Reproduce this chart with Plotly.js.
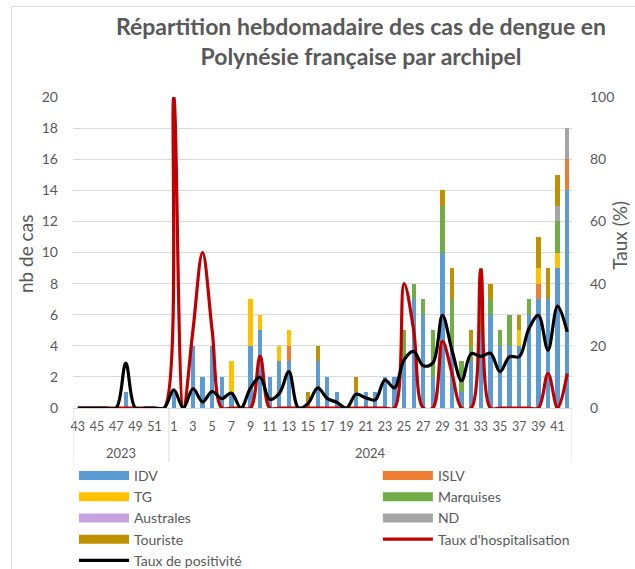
<!DOCTYPE html>
<html>
<head>
<meta charset="utf-8">
<script src="https://cdn.plot.ly/plotly-3.0.1.min.js"></script>
<style>
  html, body { margin: 0; padding: 0; background: #ffffff; }
  #frame { position: absolute; left: 11px; top: 6px; width: 640px; height: 580px;
           border-left: 1px solid #d9d9d9; border-top: 1px solid #d9d9d9; }
  #chart { position: absolute; left: 0; top: 0; width: 635px; height: 569px; }
</style>
</head>
<body>
<div id="frame"></div>
<div id="chart"></div>
<script>
// Weeks: 2023 weeks 43-52, 2024 weeks 1-42
const weeks = ["43","44","45","46","47","48","49","50","51","52",
  "1","2","3","4","5","6","7","8","9","10","11","12","13","14","15","16","17","18","19","20",
  "21","22","23","24","25","26","27","28","29","30","31","32","33","34","35","36","37","38","39","40","41","42"];
const years = ["2023", "2024"];
const tickWeeks = ["43","45","47","49","51","1","3","5","7","9","11","13","15","17","19","21","23","25","27","29","31","33","35","37","39","41"];

// Cases per archipelago (stacked)
const idv = [0,0,0,0,0,1,0,0,0,0,
  1,0,4,2,4,2,1,0,4,5,2,3,3,0,0,3,2,1,0,1,
  1,1,2,2,3,7,6,2,10,4,1,3,5,6,4,4,4,6,7,7,9,14];
const islv = [0,0,0,0,0,0,0,0,0,0,
  0,0,0,0,0,0,0,0,0,0,0,0,1,0,0,0,0,0,0,0,
  0,0,0,0,0,0,0,0,0,0,0,0,0,0,0,0,0,0,1,0,0,2];
const tg = [0,0,0,0,0,0,0,0,0,0,
  0,0,0,0,0,0,2,0,3,1,0,1,1,0,0,0,0,0,0,0,
  0,0,0,0,0,0,0,0,0,0,0,0,0,0,0,0,1,0,1,0,1,0];
const marquises = [0,0,0,0,0,0,0,0,0,0,
  0,0,0,0,0,0,0,0,0,0,0,0,0,0,0,0,0,0,0,0,
  0,0,0,0,2,1,1,3,3,3,2,1,4,1,1,2,0,1,0,0,2,0];
const australes = [0,0,0,0,0,0,0,0,0,0,
  0,0,0,0,0,0,0,0,0,0,0,0,0,0,0,0,0,0,0,0,
  0,0,0,0,0,0,0,0,0,0,0,0,0,0,0,0,0,0,0,0,0,0];
const nd = [0,0,0,0,0,0,0,0,0,0,
  0,0,0,0,0,0,0,0,0,0,0,0,0,0,0,0,0,0,0,0,
  0,0,0,0,0,0,0,0,0,0,0,0,0,0,0,0,0,0,0,0,1,2];
const touriste = [0,0,0,0,0,0,0,0,0,0,
  0,0,0,0,0,0,0,0,0,0,0,0,0,0,1,1,0,0,0,1,
  0,0,0,0,0,0,0,0,1,2,0,1,0,1,0,0,1,0,2,2,2,0];

// Rates (%)
const tauxHosp = [0,0,0,0,0,0,0,0,0,0,
  100,0,25,50,25,0,0,0,0,16.7,0,0,0,0,0,0,0,0,0,0,
  0,0,0,0,40,25,0,0,21.4,11.1,0,0,44.4,0,0,0,0,0,0,11.1,0,11.1];
const tauxPos = [0,0,0,0,0,14.4,0,0,0,0,
  5.8,0,6.2,2,5.3,3,4.8,0,6.5,9.9,2.8,4.7,11.7,0,1.5,6.5,3.1,1.8,0,4.4,
  3.3,2.6,9,6.5,15.5,18.2,13.6,14.5,29.8,18.5,8.8,17.5,16.6,17.6,11.7,16.5,16.5,25.5,29.8,18.6,32.8,24.5];

const FONT = "Lato, 'Open Sans', sans-serif";
const GREY = "#595959";

function bar(name, vals, color, leg) {
  return { type: "bar", name: name, x: weeks, y: vals, marker: { color: color },
           yaxis: "y", legend: leg, hoverinfo: "x+y+name" };
}

const traces = [
  bar("IDV", idv, "#5b9bd5", "legend"),
  bar("ISLV", islv, "#ed7d31", "legend2"),
  bar("TG", tg, "#ffc000", "legend"),
  bar("Marquises", marquises, "#70ad47", "legend2"),
  bar("Australes", australes, "#c6a3e0", "legend"),
  bar("ND", nd, "#a5a5a5", "legend2"),
  bar("Touriste", touriste, "#bf9000", "legend"),
  { type: "scatter", mode: "lines", name: "Taux d'hospitalisation", x: weeks, y: tauxHosp,
    yaxis: "y2", legend: "legend2",
    line: { color: "#c00000", width: 3.2, shape: "spline", smoothing: 1 } },
  { type: "scatter", mode: "lines", name: "Taux de positivité", x: weeks, y: tauxPos,
    yaxis: "y2", legend: "legend",
    line: { color: "#000000", width: 3.2, shape: "spline", smoothing: 1 } }
];

const plotH = 311, plotW = 499.2, L = 73;
function legendBox(px) {
  return {
    orientation: "v",
    x: (px - L) / plotW, xanchor: "left",
    y: (408 - 460) / plotH, yanchor: "top",
    itemwidth: 50,
    font: { family: FONT, size: 14, color: GREY },
    traceorder: "normal",
    bgcolor: "rgba(0,0,0,0)", borderwidth: 0
  };
}

const layout = {
  width: 635, height: 569,
  margin: { l: L, r: 635 - L - plotW, t: 97, b: 161, autoexpand: false },
  paper_bgcolor: "rgba(0,0,0,0)",
  plot_bgcolor: "rgba(0,0,0,0)",
  font: { family: FONT, color: GREY, size: 14 },
  barmode: "stack",
  bargap: 0.55,
  title: {
    text: "<b>Répartition hebdomadaire des cas de dengue en<br>Polynésie française par archipel</b>",
    font: { family: FONT, size: 23, color: GREY },
    x: 361 / 635, xanchor: "center", xref: "container",
    y: 1 - 35 / 569, yanchor: "middle", yref: "container"
  },
  xaxis: {
    type: "category",
    categoryorder: "array", categoryarray: weeks,
    tickmode: "array", tickvals: tickWeeks, ticktext: tickWeeks,
    tickangle: 0,
    showgrid: false, zeroline: false,
    showline: true, linecolor: "#d9d9d9", linewidth: 1,
    ticks: "", ticklabelstandoff: 7,
    tickfont: { family: FONT, size: 12.5, color: GREY },
    range: [-0.5, 51.5]
  },
  yaxis: {
    range: [0, 20], dtick: 2, tick0: 0,
    showgrid: true, gridcolor: "#d9d9d9", gridwidth: 1,
    zeroline: false, showline: false, ticks: "",
    ticklabelstandoff: 14,
    tickfont: { family: FONT, size: 14, color: GREY }
  },
  yaxis2: {
    overlaying: "y", side: "right",
    range: [0, 100], dtick: 20, tick0: 0,
    showgrid: false, zeroline: false, showline: false, ticks: "",
    ticklabelstandoff: 17,
    tickfont: { family: FONT, size: 14, color: GREY }
  },
  legend: legendBox(74),
  legend2: legendBox(378),
  annotations: [
    { text: years[0], x: 4.5, xref: "x", y: (408 - 453) / plotH, yref: "paper",
      yanchor: "middle", xanchor: "center",
      showarrow: false, font: { family: FONT, size: 13, color: GREY } },
    { text: years[1], x: 30.5, xref: "x", y: (408 - 453) / plotH, yref: "paper",
      yanchor: "middle", xanchor: "center",
      showarrow: false, font: { family: FONT, size: 13, color: GREY } },
    { text: "nb de cas", textangle: -90, x: (25 - L) / plotW, xref: "paper",
      y: (408 - 254) / plotH, yref: "paper", xanchor: "center", yanchor: "middle",
      showarrow: false, font: { family: FONT, size: 19, color: GREY } },
    { text: "Taux (%)", textangle: -90, x: (619 - L) / plotW, xref: "paper",
      y: (408 - 235) / plotH, yref: "paper", xanchor: "center", yanchor: "middle",
      showarrow: false, font: { family: FONT, size: 19, color: GREY } }
  ],
  shapes: [-0.5, 9.5, 51.5].map(v => ({
    type: "line", xref: "x", yref: "paper", x0: v, x1: v, y0: 0, y1: (408 - 462) / plotH,
    line: { color: "#d9d9d9", width: 1 }
  }))
};

const gd = document.getElementById("chart");
function widenSwatches() {
  // long rectangles for the bar entries of both legends, as in the original
  gd.querySelectorAll(".legendpoints path").forEach(function (p) {
    p.setAttribute("d", "M-25,4.5H25V-4.5H-25Z");
  });
}
Plotly.newPlot(gd, traces, layout, { displayModeBar: false, responsive: false })
  .then(function () {
    widenSwatches();
    gd.on("plotly_afterplot", widenSwatches);
    setTimeout(widenSwatches, 50);
    setTimeout(widenSwatches, 300);
  });
</script>
</body>
</html>
